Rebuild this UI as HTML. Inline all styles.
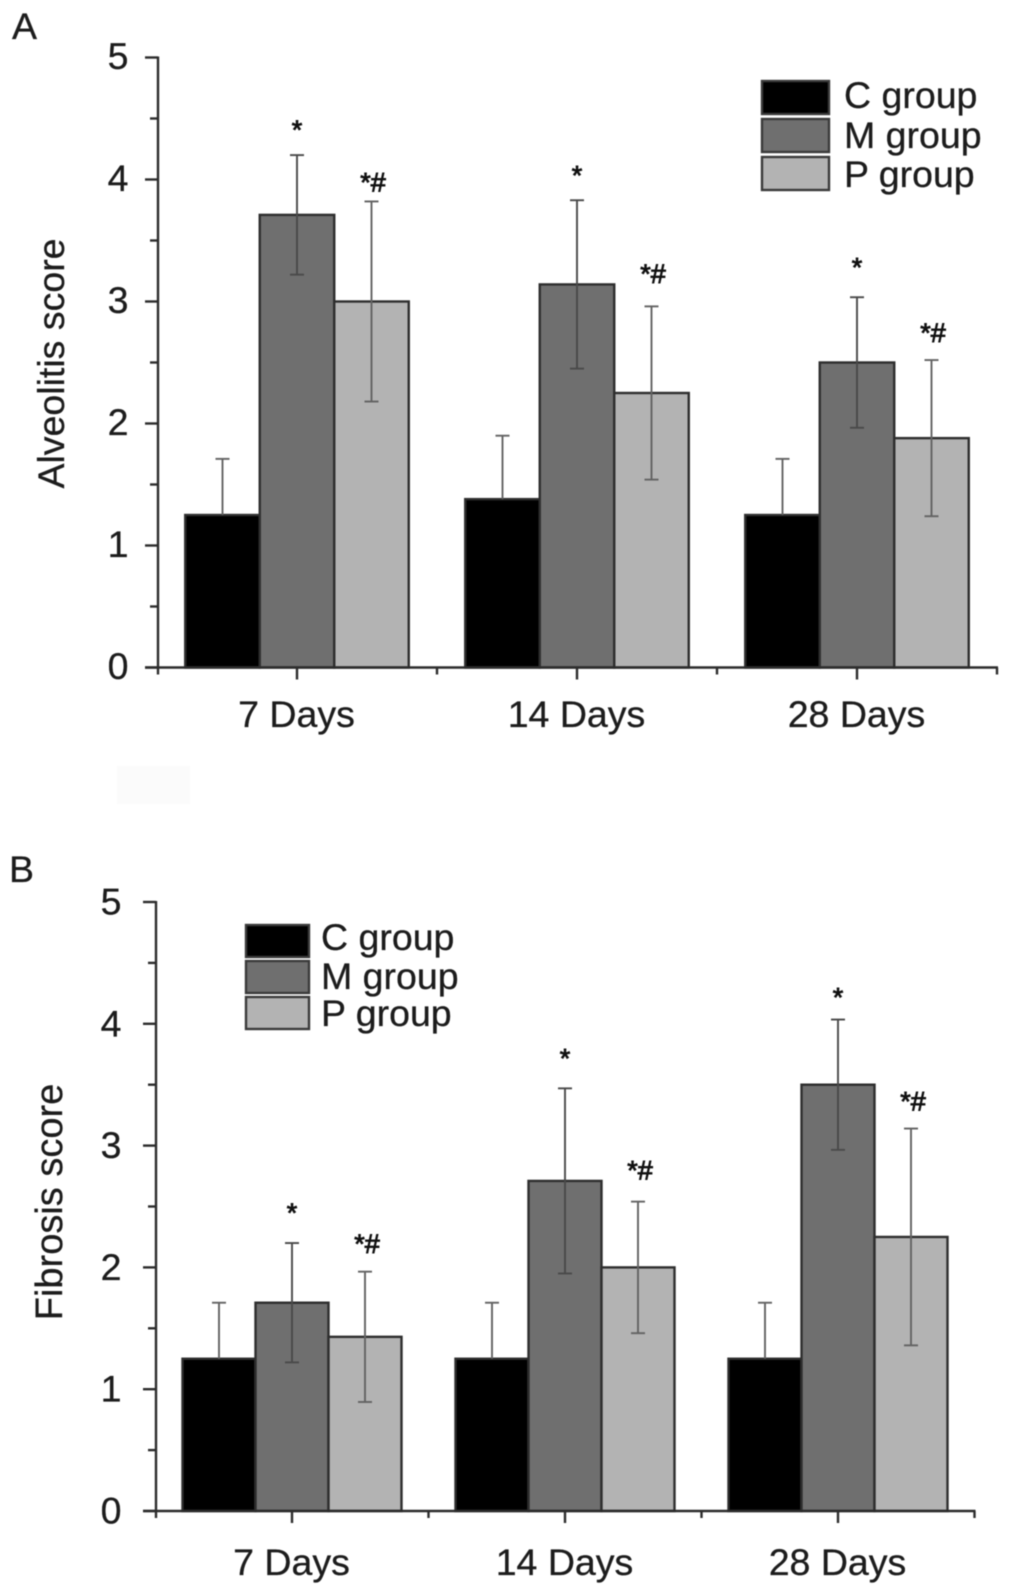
<!DOCTYPE html>
<html lang="en">
<head>
<meta charset="utf-8">
<title>Alveolitis and fibrosis scores</title>
<style>
  html, body { margin: 0; padding: 0; background: #fff; }
  svg { display: block; filter: blur(0.55px); }
  text { font-family: "Liberation Sans", Arial, sans-serif; fill: #1c1c1c; stroke: #1c1c1c; stroke-width: 0.3px; }
  text.mark { stroke-width: 0.9px; fill: #111; stroke: #111; }
</style>
</head>
<body>
<svg id="chart" xmlns="http://www.w3.org/2000/svg" width="1011" height="1595" viewBox="0 0 1011 1595"></svg>
<script>
const categories = ['7 Days', '14 Days', '28 Days'];
const seriesNames = ['C group', 'M group', 'P group'];
const yTickLabels = [0, 1, 2, 3, 4, 5];
const yMinorTicks = [0.5, 1.5, 2.5, 3.5, 4.5];

const alveolitisC = [1.25, 1.38, 1.25];
const alveolitisM = [3.71, 3.14, 2.5];
const alveolitisP = [3.0, 2.25, 1.88];
const alveolitisErrC = [0.46, 0.52, 0.46];
const alveolitisErrM = [0.49, 0.69, 0.535];
const alveolitisErrP = [0.82, 0.71, 0.64];
const alveolitisStarLevelM = [4.33, 3.96, 3.205];
const alveolitisStarLevelP = [3.9, 3.15, 2.67];

const fibrosisC = [1.25, 1.25, 1.25];
const fibrosisM = [1.71, 2.71, 3.5];
const fibrosisP = [1.43, 2.0, 2.25];
const fibrosisErrC = [0.46, 0.46, 0.46];
const fibrosisErrM = [0.49, 0.76, 0.535];
const fibrosisErrP = [0.535, 0.54, 0.89];
const fibrosisStarLevelM = [2.374, 3.64, 4.14];
const fibrosisStarLevelP = [2.12, 2.72, 3.29];

const NS = 'http://www.w3.org/2000/svg';
const root = document.getElementById('chart');
const FILLS = ['#000000', '#6f6f6f', '#b3b3b3'];
const AXIS = '#2c2c2c';
const FONT = 37.5;

function make(parent, tag, attrs, txt) {
  const node = document.createElementNS(NS, tag);
  for (const k in attrs) node.setAttribute(k, attrs[k]);
  if (txt !== undefined) node.textContent = txt;
  parent.appendChild(node);
  return node;
}

function drawPanel(p) {
  const g = make(root, 'g', {});
  
  
  const y = v => p.y0 - v * p.unit;
  const x = i => p.x0 + i * p.step;

  const letter = make(g, 'text', { x: p.letterX, y: p.letterY, 'font-size': FONT }, p.letter);
  
  

  const title = make(g, 'text', {
    x: 0, y: 0, 'font-size': p.titleSize, 'text-anchor': 'middle',
    transform: 'translate(' + p.titleX + ' ' + p.titleY + ') rotate(-90)'
  }, p.title);
  
  

  // bars
  p.means.forEach(function (series, s) {
    series.forEach(function (value, i) {
      const cx = x(i) + (s - 1) * p.barW;
      const bar = make(g, 'rect', {
        x: cx - p.barW / 2, y: y(value), width: p.barW, height: p.y0 - y(value),
        fill: FILLS[s], stroke: '#2e2e2e', 'stroke-width': 2.4
      });
      
      
    });
  });

  // error bars
  p.errs.forEach(function (series, s) {
    series.forEach(function (err, i) {
      const cx = x(i) + (s - 1) * p.barW;
      const top = y(p.means[s][i] + err);
      const bottom = s === 0 ? y(p.means[s][i]) : y(p.means[s][i] - err);
      const color = s === 1 ? '#4a4a4a' : '#636363';
      const eb = make(g, 'g', { stroke: color, 'stroke-width': 1.9, fill: 'none' });
      
      
      make(eb, 'line', { x1: cx, x2: cx, y1: top, y2: bottom });
      make(eb, 'line', { x1: cx - 7, x2: cx + 7, y1: top, y2: top });
      if (s !== 0) make(eb, 'line', { x1: cx - 7, x2: cx + 7, y1: bottom, y2: bottom });
    });
  });

  // significance markers
  p.starM.forEach(function (level, i) {
    const m = make(g, 'text', { class: 'mark', x: x(i), y: y(level), 'font-size': 27, 'text-anchor': 'middle' }, '*');
    
    
  });
  p.starP.forEach(function (level, i) {
    const m = make(g, 'text', { class: 'mark', x: x(i) + p.barW + p.markDx, y: y(level), 'font-size': 27, 'text-anchor': 'middle' }, '*#');
    
    
  });

  // axes
  const axes = make(g, 'g', { stroke: AXIS, 'stroke-width': 2.4, fill: 'none' });
  
  
  const xRight = x(categories.length - 1) + p.step / 2;
  make(axes, 'line', { x1: p.axisX, x2: p.axisX, y1: y(5) - 1, y2: p.y0 + 7 });
  make(axes, 'line', { x1: p.axisX - 13, x2: xRight + 1, y1: p.y0, y2: p.y0 });
  yTickLabels.forEach(function (v) {
    make(axes, 'line', { x1: p.axisX - 13, x2: p.axisX, y1: y(v), y2: y(v) });
    const t = make(g, 'text', { x: p.labelX, y: y(v) + p.labelDy, 'font-size': FONT, 'text-anchor': 'end' }, String(v));
    
    
  });
  yMinorTicks.forEach(function (v) {
    make(axes, 'line', { x1: p.axisX - 8, x2: p.axisX, y1: y(v), y2: y(v) });
  });
  categories.forEach(function (name, i) {
    make(axes, 'line', { x1: x(i), x2: x(i), y1: p.y0, y2: p.y0 + 12 });
    make(axes, 'line', { x1: x(i) + p.step / 2, x2: x(i) + p.step / 2, y1: p.y0, y2: p.y0 + 7 });
    const t = make(g, 'text', { x: x(i) + p.catDx, y: p.catY, 'font-size': FONT, 'text-anchor': 'middle' }, name);
    
    
  });

  // legend
  const legend = make(g, 'g', {});
  
  
  seriesNames.forEach(function (name, s) {
    const entry = make(legend, 'g', {});
    
    
    make(entry, 'rect', {
      x: p.legX, y: p.legY[s], width: p.legW, height: p.legH,
      fill: FILLS[s], stroke: '#3a3a3a', 'stroke-width': 2.4
    });
    make(entry, 'text', { x: p.legTextX, y: p.legBase[s], 'font-size': FONT }, name);
  });
}

const patch = make(root, 'rect', { x: 117, y: 766, width: 73, height: 38, fill: '#fbfbfb' });



drawPanel({
  key: 'alveolitis', letter: 'A', letterX: 12, letterY: 39,
  title: 'Alveolitis score', titleSize: 37.5, titleX: 64, titleY: 363.5,
  y0: 667.5, unit: 122, x0: 297, step: 280, barW: 74.5, axisX: 158,
  labelX: 128.5, labelDy: 11.5, catY: 727, catDx: -0.5, markDx: 1.5,
  means: [alveolitisC, alveolitisM, alveolitisP],
  errs: [alveolitisErrC, alveolitisErrM, alveolitisErrP],
  starM: alveolitisStarLevelM, starP: alveolitisStarLevelP,
  legX: 762, legW: 67, legH: 33, legY: [81, 119, 157], legBase: [108, 148, 187], legTextX: 844
});

drawPanel({
  key: 'fibrosis', letter: 'B', letterX: 9, letterY: 882,
  title: 'Fibrosis score', titleSize: 38, titleX: 62, titleY: 1202,
  y0: 1511, unit: 121.8, x0: 292, step: 273, barW: 73, axisX: 156,
  labelX: 121.5, labelDy: 12.5, catY: 1575, catDx: -0.5, markDx: 2,
  means: [fibrosisC, fibrosisM, fibrosisP],
  errs: [fibrosisErrC, fibrosisErrM, fibrosisErrP],
  starM: fibrosisStarLevelM, starP: fibrosisStarLevelP,
  legX: 246, legW: 63, legH: 32, legY: [925, 961, 997], legBase: [950, 989, 1026], legTextX: 321
});
</script>
</body>
</html>
